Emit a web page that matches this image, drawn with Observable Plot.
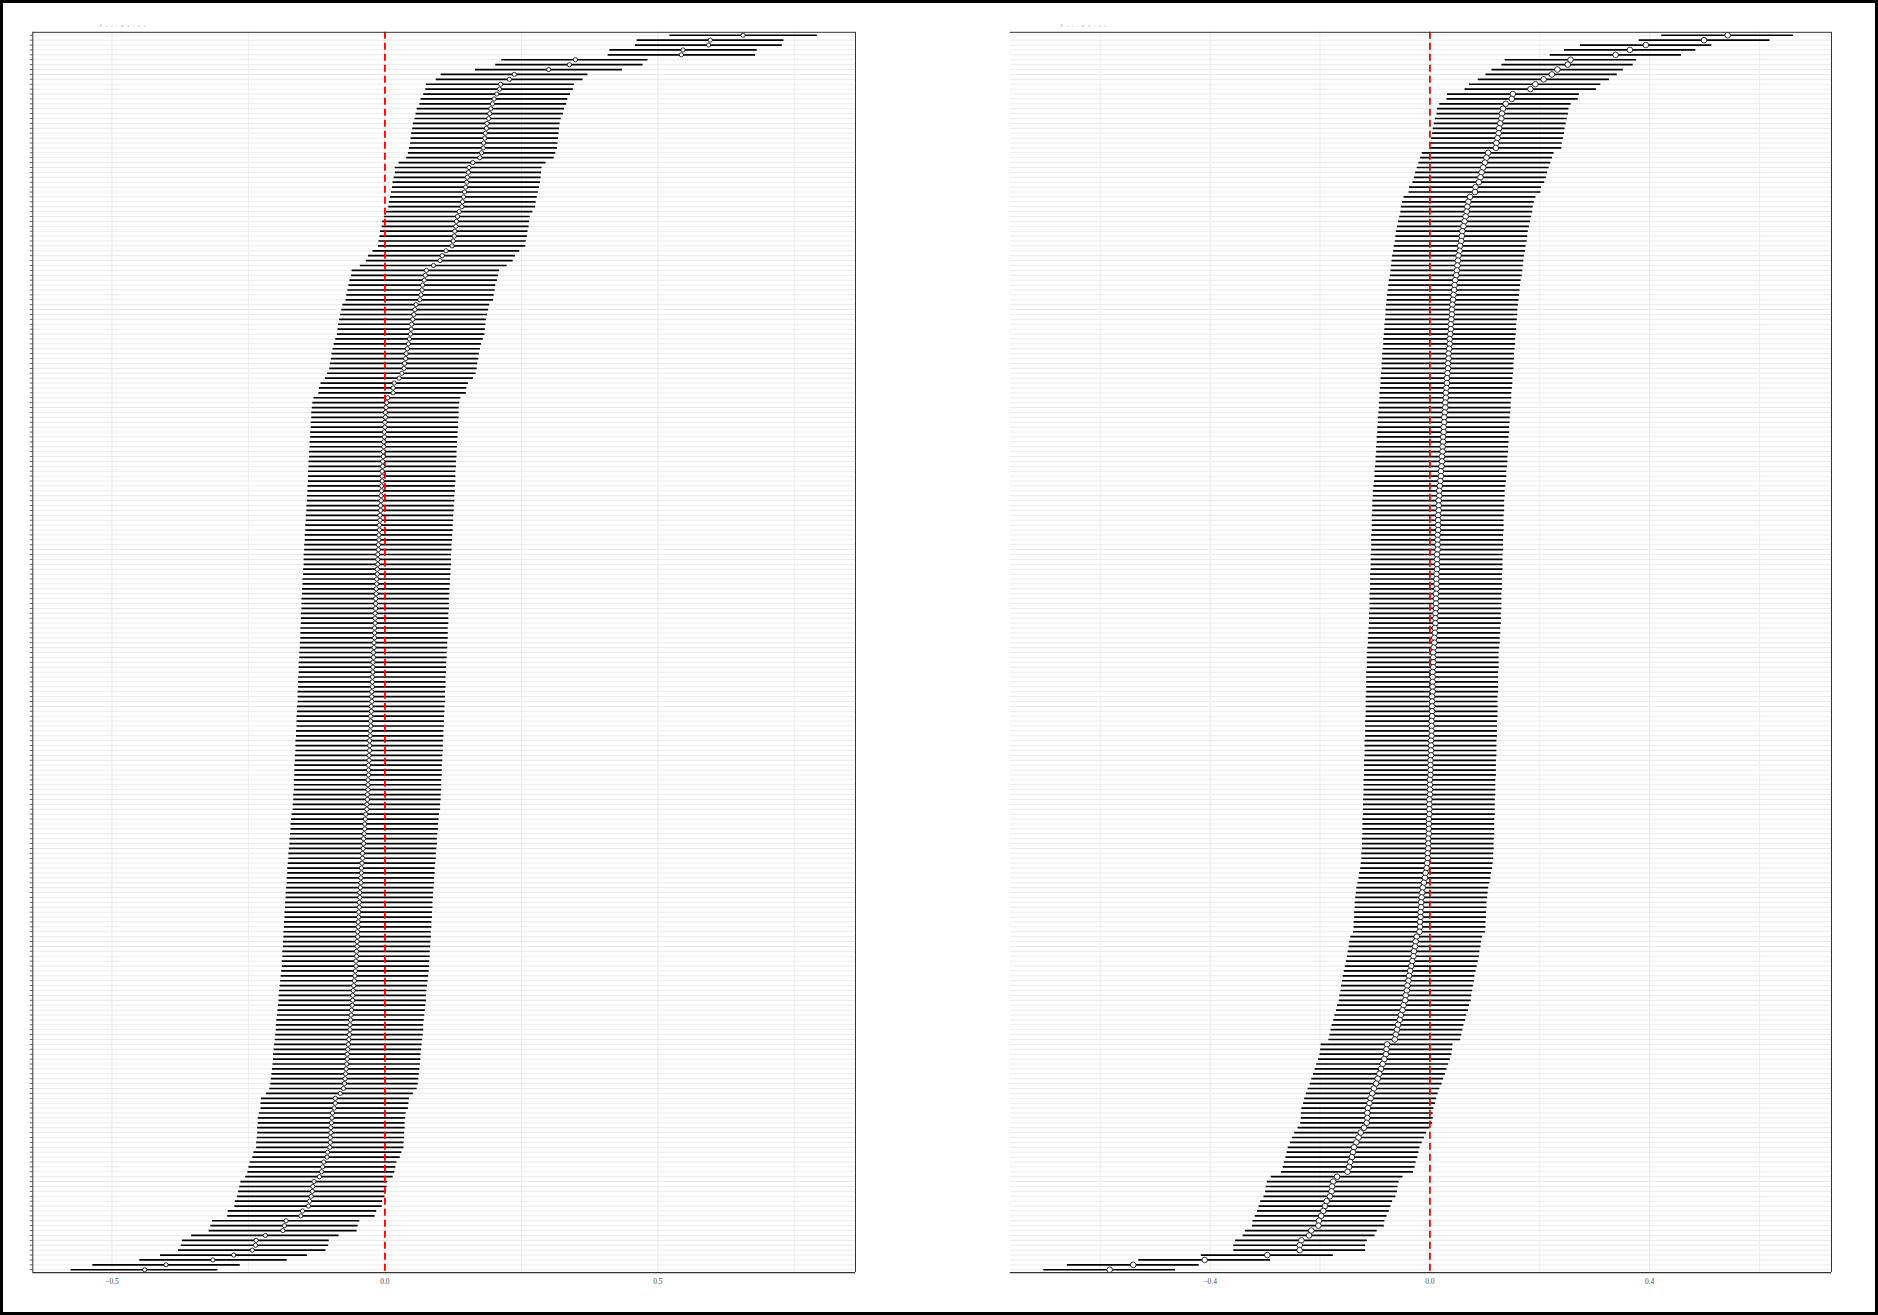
<!DOCTYPE html>
<html>
<head>
<meta charset="utf-8">
<script src="https://cdn.jsdelivr.net/npm/d3@7"></script>
<script src="https://cdn.jsdelivr.net/npm/@observablehq/plot@0.6"></script>
<style>
  html, body { margin: 0; padding: 0; background: #fff; }
  #wrap { position: relative; width: 1878px; height: 1315px; overflow: hidden; background: #fff; }
  #wrap svg { position: absolute; left: 0; top: 0; }
  #frame { position: absolute; left: 0; top: 0; width: 1878px; height: 1315px; box-sizing: border-box; border: 3px solid #000; pointer-events: none; }
  .ttl { position: absolute; top: 24px; font: 3px "Liberation Sans", sans-serif; color: #aaa; letter-spacing: 4px; white-space: pre; }
</style>
</head>
<body>
<div id="wrap">
  <div class="ttl" style="left:100px">Estimates</div>
  <div class="ttl" style="left:1061px">Estimates</div>
  <div id="frame"></div>
</div>
<script>
// ---- Left panel (253 rows, top to bottom) ----
const leftEst = [
0.656,0.596,0.593,0.546,0.543,0.349,0.338,0.300,0.237,0.228,
0.212,0.210,0.205,0.200,0.197,0.194,0.192,0.190,0.187,0.186,
0.184,0.183,0.181,0.180,0.177,0.174,0.161,0.154,0.153,0.151,
0.150,0.148,0.146,0.144,0.142,0.141,0.136,0.133,0.131,0.130,
0.128,0.127,0.125,0.123,0.112,0.105,0.101,0.089,0.076,0.074,
0.072,0.069,0.068,0.066,0.064,0.057,0.055,0.053,0.051,0.049,
0.048,0.047,0.045,0.043,0.041,0.039,0.038,0.036,0.035,0.031,
0.026,0.017,0.015,0.015,0.005,0.003,0.002,0.001,0.001,0.000,
0.000,-0.001,-0.001,-0.002,-0.002,-0.003,-0.003,-0.004,-0.004,-0.005,
-0.005,-0.005,-0.006,-0.006,-0.007,-0.007,-0.008,-0.008,-0.009,-0.009,
-0.010,-0.010,-0.011,-0.011,-0.012,-0.012,-0.013,-0.013,-0.013,-0.014,
-0.014,-0.015,-0.015,-0.016,-0.016,-0.017,-0.017,-0.017,-0.018,-0.018,
-0.018,-0.019,-0.019,-0.019,-0.020,-0.020,-0.021,-0.021,-0.022,-0.022,
-0.022,-0.023,-0.023,-0.023,-0.024,-0.024,-0.024,-0.025,-0.025,-0.026,
-0.026,-0.026,-0.027,-0.027,-0.028,-0.028,-0.028,-0.029,-0.029,-0.030,
-0.030,-0.030,-0.031,-0.031,-0.031,-0.032,-0.032,-0.033,-0.033,-0.035,
-0.036,-0.037,-0.037,-0.038,-0.039,-0.039,-0.040,-0.041,-0.041,-0.042,
-0.043,-0.043,-0.044,-0.044,-0.045,-0.046,-0.046,-0.047,-0.047,-0.048,
-0.048,-0.049,-0.049,-0.050,-0.050,-0.051,-0.051,-0.052,-0.052,-0.053,
-0.053,-0.054,-0.055,-0.056,-0.057,-0.058,-0.059,-0.059,-0.060,-0.061,
-0.062,-0.063,-0.064,-0.064,-0.065,-0.066,-0.067,-0.068,-0.069,-0.069,
-0.070,-0.071,-0.072,-0.073,-0.074,-0.076,-0.082,-0.091,-0.091,-0.093,
-0.096,-0.097,-0.098,-0.099,-0.099,-0.100,-0.100,-0.101,-0.105,-0.106,
-0.112,-0.114,-0.116,-0.120,-0.130,-0.132,-0.133,-0.135,-0.138,-0.140,
-0.151,-0.154,-0.181,-0.184,-0.187,-0.219,-0.236,-0.237,-0.243,-0.277,
-0.315,-0.401,-0.440];
const leftLo = [
0.522,0.462,0.459,0.412,0.409,0.214,0.203,0.166,0.103,0.094,
0.076,0.075,0.071,0.066,0.064,0.059,0.057,0.055,0.052,0.051,
0.049,0.048,0.047,0.045,0.043,0.040,0.026,0.019,0.019,0.017,
0.015,0.014,0.012,0.010,0.008,0.007,0.003,-0.001,-0.004,-0.005,
-0.008,-0.009,-0.011,-0.012,-0.022,-0.030,-0.034,-0.045,-0.060,-0.061,
-0.064,-0.066,-0.068,-0.070,-0.071,-0.077,-0.079,-0.081,-0.083,-0.085,
-0.086,-0.087,-0.090,-0.093,-0.095,-0.097,-0.098,-0.100,-0.101,-0.105,
-0.109,-0.117,-0.120,-0.121,-0.130,-0.132,-0.133,-0.134,-0.134,-0.135,
-0.135,-0.136,-0.136,-0.137,-0.137,-0.138,-0.138,-0.139,-0.139,-0.140,
-0.140,-0.140,-0.141,-0.141,-0.142,-0.142,-0.143,-0.143,-0.144,-0.144,
-0.145,-0.145,-0.146,-0.146,-0.147,-0.147,-0.148,-0.148,-0.148,-0.149,
-0.149,-0.150,-0.150,-0.151,-0.151,-0.152,-0.152,-0.152,-0.153,-0.153,
-0.153,-0.154,-0.154,-0.154,-0.155,-0.155,-0.156,-0.156,-0.157,-0.157,
-0.157,-0.158,-0.158,-0.158,-0.159,-0.159,-0.159,-0.160,-0.160,-0.161,
-0.161,-0.161,-0.162,-0.162,-0.163,-0.163,-0.163,-0.164,-0.164,-0.165,
-0.165,-0.165,-0.166,-0.166,-0.166,-0.167,-0.167,-0.168,-0.168,-0.170,
-0.171,-0.172,-0.172,-0.173,-0.174,-0.174,-0.175,-0.176,-0.176,-0.177,
-0.178,-0.178,-0.179,-0.179,-0.180,-0.181,-0.181,-0.182,-0.182,-0.183,
-0.183,-0.184,-0.184,-0.185,-0.185,-0.186,-0.186,-0.187,-0.187,-0.188,
-0.188,-0.189,-0.190,-0.191,-0.192,-0.193,-0.194,-0.194,-0.195,-0.196,
-0.197,-0.198,-0.199,-0.199,-0.200,-0.201,-0.202,-0.203,-0.204,-0.204,
-0.205,-0.206,-0.207,-0.208,-0.209,-0.211,-0.217,-0.226,-0.227,-0.227,
-0.230,-0.232,-0.232,-0.233,-0.233,-0.234,-0.235,-0.235,-0.240,-0.242,
-0.247,-0.249,-0.251,-0.255,-0.264,-0.266,-0.268,-0.270,-0.274,-0.275,
-0.287,-0.288,-0.316,-0.319,-0.322,-0.354,-0.371,-0.373,-0.378,-0.411,
-0.449,-0.535,-0.575];
const leftHi = [
0.792,0.731,0.728,0.682,0.679,0.482,0.473,0.435,0.372,0.363,
0.347,0.345,0.340,0.335,0.333,0.329,0.327,0.323,0.321,0.320,
0.319,0.318,0.317,0.316,0.313,0.310,0.295,0.288,0.287,0.286,
0.285,0.283,0.281,0.279,0.277,0.276,0.271,0.266,0.265,0.264,
0.262,0.261,0.259,0.258,0.247,0.239,0.235,0.224,0.210,0.208,
0.206,0.203,0.202,0.200,0.199,0.192,0.190,0.188,0.186,0.185,
0.184,0.183,0.180,0.177,0.175,0.173,0.172,0.170,0.169,0.167,
0.162,0.153,0.150,0.149,0.139,0.137,0.136,0.136,0.136,0.135,
0.135,0.134,0.134,0.133,0.133,0.132,0.132,0.131,0.131,0.130,
0.130,0.130,0.129,0.129,0.128,0.128,0.127,0.127,0.126,0.126,
0.125,0.125,0.124,0.124,0.123,0.123,0.122,0.122,0.122,0.121,
0.121,0.120,0.120,0.119,0.119,0.118,0.118,0.118,0.117,0.117,
0.117,0.116,0.116,0.116,0.115,0.115,0.114,0.114,0.113,0.113,
0.113,0.112,0.112,0.112,0.111,0.111,0.111,0.110,0.110,0.109,
0.109,0.109,0.108,0.108,0.107,0.107,0.107,0.106,0.106,0.105,
0.105,0.105,0.104,0.104,0.104,0.103,0.103,0.102,0.102,0.100,
0.099,0.098,0.098,0.097,0.096,0.096,0.095,0.094,0.094,0.093,
0.092,0.092,0.091,0.091,0.090,0.089,0.089,0.088,0.088,0.087,
0.087,0.086,0.086,0.085,0.085,0.084,0.084,0.083,0.083,0.082,
0.082,0.081,0.080,0.079,0.078,0.077,0.076,0.076,0.075,0.074,
0.073,0.072,0.071,0.071,0.070,0.069,0.068,0.067,0.066,0.066,
0.065,0.064,0.063,0.062,0.061,0.059,0.052,0.045,0.044,0.043,
0.039,0.038,0.037,0.037,0.036,0.036,0.035,0.035,0.031,0.028,
0.022,0.020,0.018,0.015,0.005,0.004,0.002,0.000,-0.004,-0.005,
-0.015,-0.018,-0.046,-0.049,-0.051,-0.084,-0.102,-0.103,-0.108,-0.142,
-0.179,-0.265,-0.306];

// ---- Right panel (253 rows, top to bottom) ----
const rightEst = [
0.542,0.499,0.393,0.364,0.338,0.256,0.251,0.232,0.222,0.207,
0.192,0.183,0.151,0.149,0.138,0.133,0.131,0.130,0.128,0.126,
0.125,0.123,0.121,0.120,0.106,0.103,0.100,0.097,0.094,0.092,
0.089,0.083,0.082,0.073,0.070,0.068,0.067,0.065,0.063,0.061,
0.059,0.058,0.057,0.055,0.054,0.052,0.051,0.050,0.049,0.048,
0.046,0.045,0.044,0.043,0.042,0.041,0.040,0.040,0.039,0.038,
0.038,0.037,0.036,0.036,0.035,0.034,0.034,0.033,0.033,0.032,
0.031,0.031,0.030,0.029,0.029,0.028,0.028,0.027,0.026,0.026,
0.025,0.025,0.024,0.024,0.023,0.023,0.022,0.022,0.021,0.020,
0.020,0.019,0.018,0.017,0.017,0.016,0.016,0.016,0.015,0.015,
0.015,0.015,0.014,0.014,0.014,0.014,0.013,0.013,0.013,0.013,
0.012,0.012,0.012,0.012,0.011,0.011,0.011,0.011,0.010,0.010,
0.010,0.009,0.009,0.008,0.008,0.007,0.006,0.006,0.006,0.006,
0.005,0.005,0.005,0.005,0.005,0.004,0.004,0.004,0.004,0.004,
0.003,0.003,0.003,0.003,0.002,0.002,0.002,0.002,0.001,0.001,
0.001,0.001,0.000,0.000,0.000,0.000,-0.001,-0.001,-0.001,-0.001,
-0.002,-0.002,-0.002,-0.002,-0.003,-0.003,-0.003,-0.004,-0.004,-0.005,
-0.006,-0.008,-0.009,-0.011,-0.013,-0.014,-0.015,-0.016,-0.016,-0.017,
-0.017,-0.018,-0.018,-0.019,-0.024,-0.026,-0.027,-0.029,-0.030,-0.032,
-0.034,-0.036,-0.038,-0.039,-0.041,-0.042,-0.044,-0.045,-0.048,-0.050,
-0.053,-0.055,-0.058,-0.060,-0.062,-0.064,-0.078,-0.079,-0.080,-0.083,
-0.086,-0.089,-0.092,-0.095,-0.098,-0.102,-0.105,-0.108,-0.110,-0.113,
-0.114,-0.114,-0.115,-0.120,-0.126,-0.130,-0.134,-0.138,-0.140,-0.142,
-0.145,-0.147,-0.150,-0.169,-0.176,-0.178,-0.179,-0.182,-0.188,-0.191,
-0.194,-0.198,-0.202,-0.203,-0.216,-0.220,-0.234,-0.237,-0.237,-0.296,
-0.410,-0.540,-0.583];
const rightLo = [
0.422,0.381,0.274,0.245,0.219,0.137,0.131,0.113,0.102,0.088,
0.072,0.064,0.032,0.031,0.018,0.014,0.013,0.010,0.008,0.006,
0.005,0.003,0.001,0.000,-0.014,-0.017,-0.020,-0.023,-0.026,-0.028,
-0.031,-0.037,-0.038,-0.047,-0.050,-0.052,-0.053,-0.055,-0.057,-0.059,
-0.061,-0.062,-0.063,-0.065,-0.066,-0.068,-0.069,-0.070,-0.071,-0.072,
-0.074,-0.075,-0.076,-0.077,-0.078,-0.079,-0.080,-0.080,-0.081,-0.082,
-0.082,-0.083,-0.084,-0.084,-0.085,-0.086,-0.086,-0.087,-0.087,-0.088,
-0.089,-0.089,-0.090,-0.091,-0.091,-0.092,-0.092,-0.093,-0.094,-0.094,
-0.095,-0.095,-0.096,-0.096,-0.097,-0.097,-0.098,-0.098,-0.099,-0.100,
-0.100,-0.101,-0.102,-0.103,-0.103,-0.104,-0.104,-0.104,-0.105,-0.105,
-0.105,-0.105,-0.106,-0.106,-0.106,-0.106,-0.107,-0.107,-0.107,-0.107,
-0.108,-0.108,-0.108,-0.108,-0.109,-0.109,-0.109,-0.109,-0.110,-0.110,
-0.110,-0.111,-0.111,-0.112,-0.112,-0.113,-0.114,-0.114,-0.114,-0.114,
-0.115,-0.115,-0.115,-0.115,-0.115,-0.116,-0.116,-0.116,-0.116,-0.116,
-0.117,-0.117,-0.117,-0.117,-0.118,-0.118,-0.118,-0.118,-0.119,-0.119,
-0.119,-0.119,-0.120,-0.120,-0.120,-0.120,-0.121,-0.121,-0.121,-0.121,
-0.122,-0.122,-0.122,-0.122,-0.123,-0.123,-0.123,-0.124,-0.124,-0.125,
-0.126,-0.128,-0.129,-0.131,-0.133,-0.134,-0.135,-0.136,-0.136,-0.137,
-0.137,-0.138,-0.138,-0.139,-0.144,-0.146,-0.147,-0.149,-0.150,-0.152,
-0.154,-0.156,-0.158,-0.159,-0.161,-0.162,-0.164,-0.165,-0.168,-0.170,
-0.173,-0.175,-0.178,-0.180,-0.182,-0.184,-0.198,-0.199,-0.200,-0.203,
-0.206,-0.209,-0.212,-0.215,-0.218,-0.222,-0.225,-0.228,-0.230,-0.233,
-0.234,-0.234,-0.235,-0.240,-0.246,-0.250,-0.254,-0.258,-0.260,-0.262,
-0.265,-0.267,-0.270,-0.289,-0.296,-0.298,-0.299,-0.302,-0.308,-0.311,
-0.314,-0.318,-0.322,-0.323,-0.336,-0.340,-0.354,-0.357,-0.357,-0.416,
-0.530,-0.660,-0.703];
const rightHi = [
0.662,0.619,0.513,0.484,0.458,0.376,0.370,0.352,0.341,0.327,
0.311,0.303,0.272,0.270,0.257,0.253,0.252,0.250,0.248,0.246,
0.245,0.243,0.241,0.240,0.226,0.223,0.220,0.217,0.214,0.212,
0.209,0.203,0.202,0.193,0.190,0.188,0.187,0.185,0.183,0.181,
0.179,0.178,0.177,0.175,0.174,0.172,0.171,0.170,0.169,0.168,
0.166,0.165,0.164,0.163,0.162,0.161,0.160,0.160,0.159,0.158,
0.158,0.157,0.156,0.156,0.155,0.154,0.154,0.153,0.153,0.152,
0.151,0.151,0.150,0.149,0.149,0.148,0.148,0.147,0.146,0.146,
0.145,0.145,0.144,0.144,0.143,0.143,0.142,0.142,0.141,0.140,
0.140,0.139,0.138,0.137,0.137,0.136,0.136,0.136,0.135,0.135,
0.135,0.135,0.134,0.134,0.134,0.134,0.133,0.133,0.133,0.133,
0.132,0.132,0.132,0.132,0.131,0.131,0.131,0.131,0.130,0.130,
0.130,0.129,0.129,0.128,0.128,0.127,0.126,0.126,0.126,0.126,
0.125,0.125,0.125,0.125,0.125,0.124,0.124,0.124,0.124,0.124,
0.123,0.123,0.123,0.123,0.122,0.122,0.122,0.122,0.121,0.121,
0.121,0.121,0.120,0.120,0.120,0.120,0.119,0.119,0.119,0.119,
0.118,0.118,0.118,0.118,0.117,0.117,0.117,0.116,0.116,0.115,
0.114,0.112,0.111,0.109,0.107,0.106,0.105,0.104,0.104,0.103,
0.103,0.102,0.102,0.101,0.096,0.094,0.093,0.091,0.090,0.088,
0.086,0.084,0.082,0.081,0.079,0.078,0.076,0.075,0.072,0.070,
0.067,0.065,0.062,0.060,0.058,0.056,0.042,0.041,0.040,0.037,
0.034,0.031,0.028,0.025,0.022,0.018,0.015,0.012,0.010,0.007,
0.006,0.006,0.005,0.000,-0.006,-0.010,-0.014,-0.018,-0.020,-0.022,
-0.025,-0.027,-0.030,-0.049,-0.056,-0.058,-0.059,-0.062,-0.068,-0.071,
-0.074,-0.078,-0.082,-0.083,-0.096,-0.100,-0.114,-0.117,-0.117,-0.176,
-0.290,-0.420,-0.463];

const leftTicks = [-0.5, 0, 0.5];
const leftMinor = [-0.25, 0.25, 0.75];
const rightTicks = [-0.4, 0, 0.4];
const rightMinor = [-0.6, -0.2, 0.2, 0.6];

const rows = d3.range(1, leftEst.length + 1);
const fmt = d => d === 0 ? "0.0" : d3.format(".1f")(d);

function panel({est, lo, hi, domain, ticks, minor, ml, mr, r, sw, yTicks, leftBorder}) {
  const data = rows.map((k, i) => ({row: k, est: est[i], lo: lo[i], hi: hi[i]}));
  const W = 1878, H = 1315, mt = 31.8, mb = 42.8;
  const step = (H - mt - mb) / (rows.length - 1 + 1.2);
  const marks = [
    Plot.gridY(rows, {stroke: "#ebebeb", strokeOpacity: 1, strokeWidth: 1}),
    Plot.gridX(minor, {stroke: "#ebebeb", strokeOpacity: 1, strokeWidth: 0.8}),
    Plot.gridX(ticks, {stroke: "#ebebeb", strokeOpacity: 1, strokeWidth: 1.1}),
    Plot.ruleY(data, {y: "row", x1: "lo", x2: "hi", stroke: "#000", strokeWidth: sw}),
    Plot.ruleX([0], {stroke: "#ff0000", strokeWidth: 1.8, strokeDasharray: "7,4"}),
    Plot.dot(data, {x: "est", y: "row", r, fill: "#fff", stroke: "#000", strokeWidth: 0.8}),
    Plot.axisX(ticks, {tickSize: 0, tickPadding: 6, tickFormat: fmt, fill: "#4d4d4d", fontSize: 7.5, fontFamily: "Liberation Serif", label: null}),
    // panel border
    Plot.ruleY([rows[0]], {dy: -0.6 * step, stroke: "#333", strokeWidth: 1}),
    Plot.ruleY([rows[rows.length - 1]], {dy: 0.6 * step, stroke: "#333", strokeWidth: 1.3}),
    Plot.ruleX([domain[1]], {stroke: "#333", strokeWidth: 1})
  ];
  if (leftBorder) marks.push(Plot.ruleX([domain[0]], {stroke: "#333", strokeWidth: 1}));
  if (yTicks) marks.push(Plot.axisY(rows, {tickSize: 2.5, tickFormat: () => "", stroke: "#333", strokeWidth: 0.8, label: null}));
  return Plot.plot({
    width: W, height: H,
    marginLeft: ml, marginRight: mr, marginTop: mt, marginBottom: mb,
    style: {background: "transparent", overflow: "visible"},
    x: {domain, axis: null},
    y: {type: "point", domain: rows, padding: 0.6, axis: null, label: null},
    marks
  });
}

const wrap = document.getElementById("wrap");
const frame = document.getElementById("frame");
wrap.insertBefore(panel({est: leftEst, lo: leftLo, hi: leftHi, domain: [-0.645, 0.862],
  ticks: leftTicks, minor: leftMinor, ml: 32.3, mr: 1878 - 855, r: 2.1, sw: 1.7, yTicks: true, leftBorder: true}), frame);
wrap.insertBefore(panel({est: rightEst, lo: rightLo, hi: rightHi, domain: [-0.764, 0.731],
  ticks: rightTicks, minor: rightMinor, ml: 1009.7, mr: 1878 - 1831, r: 2.8, sw: 1.7, yTicks: false, leftBorder: false}), frame);
</script>
</body>
</html>
